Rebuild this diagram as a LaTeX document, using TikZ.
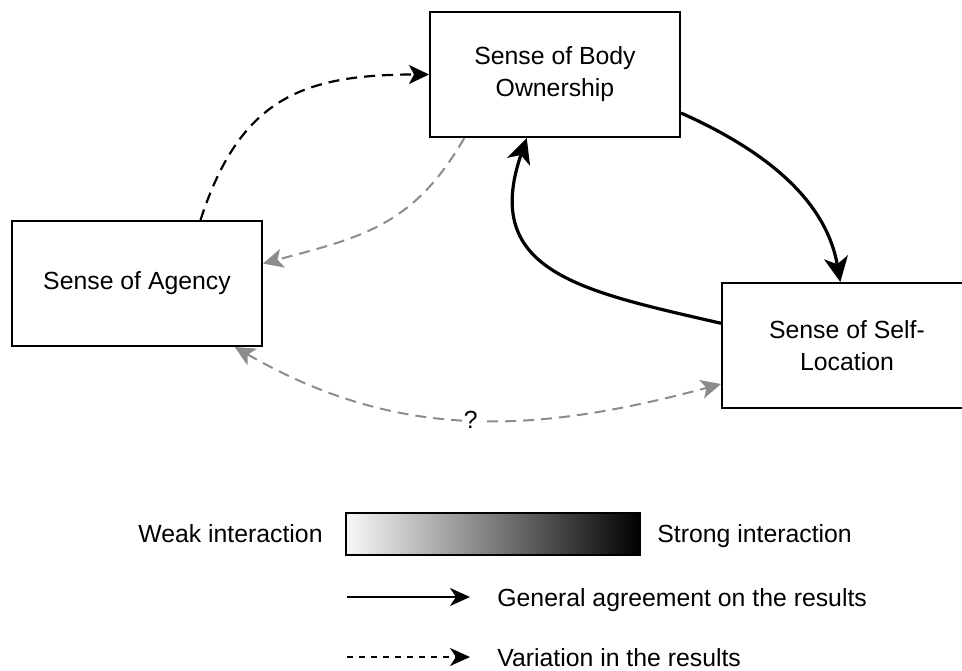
\documentclass[tikz,border=0pt]{standalone}
\usepackage{fontspec}
\setmainfont{Liberation Sans}
\usetikzlibrary{arrows.meta}

\begin{document}
\begin{tikzpicture}[x=0.5pt, y=0.5pt, font=\fontsize{12.4}{16}\selectfont,
    sense/.style={draw, line width=1pt, minimum width=125pt, minimum height=62.5pt, align=center},
    strong/.style={line width=1.6pt, >={Stealth[length=12.5pt, width=12pt, inset=3.5pt]}, ->},
    varies/.style={line width=1.1pt, dash pattern=on 5.5pt off 3.5pt, >={Stealth[length=10pt, width=9.5pt, inset=2.5pt]}, ->},
    faint/.style={varies, line width=1pt, color=black!45},
    keytext/.style={inner sep=0pt, anchor=base west}]
    % Page size
    \useasboundingbox (0, 0) rectangle (962, 670);

    % Boxes
    \node[sense] (own) at (555, 595.5) {Sense of Body\\Ownership};
    \node[sense] (agency) at (137, 386.5) {Sense of Agency};
    \node[sense] (selfloc) at (847, 324.5) {Sense of Self-\\Location};

    % Interactions
    \draw[varies] (agency.45) to[out=72, in=180, looseness=1.2] (own.west);
    \draw[strong] (own.-17) to[out=-24, in=100, looseness=0.95] (selfloc.96);
    \draw[strong] (selfloc.170) to[out=167, in=-109, looseness=1.35] (own.-114);
    \draw[faint] (own.-145) to[out=-120, in=15, looseness=1.1] (agency.9);
    \draw[faint, <->] (agency.-33) to[out=-30, in=-165, looseness=1]
        node[fill=white, inner sep=1pt, text=black] (unknown) {?} (selfloc.-163);

    % Legend
    \node[draw, line width=1pt, left color=black!3, right color=black,
        minimum width=147pt, minimum height=21pt] (scale) at (493, 136) {};
    \node[keytext, anchor=base east] (weak) at (323, 127.5) {Weak interaction};
    \node[keytext] (strongtxt) at (657, 127.5) {Strong interaction};

    \coordinate (solidA) at (347, 73);
    \coordinate (solidB) at (470, 73);
    \draw[line width=1pt, -{Stealth[length=10pt, width=9pt, inset=3pt]}] (solidA) -- (solidB);
    \node[keytext] (agree) at (497, 63.5) {General agreement on the results};

    \coordinate (dashA) at (347, 13);
    \coordinate (dashB) at (470, 13);
    \draw[line width=1pt, dash pattern=on 3pt off 3pt, -{Stealth[length=10pt, width=9pt, inset=3pt]}] (dashA) -- (dashB);
    \node[keytext] (vary) at (497, 4) {Variation in the results};
\end{tikzpicture}
\end{document}
